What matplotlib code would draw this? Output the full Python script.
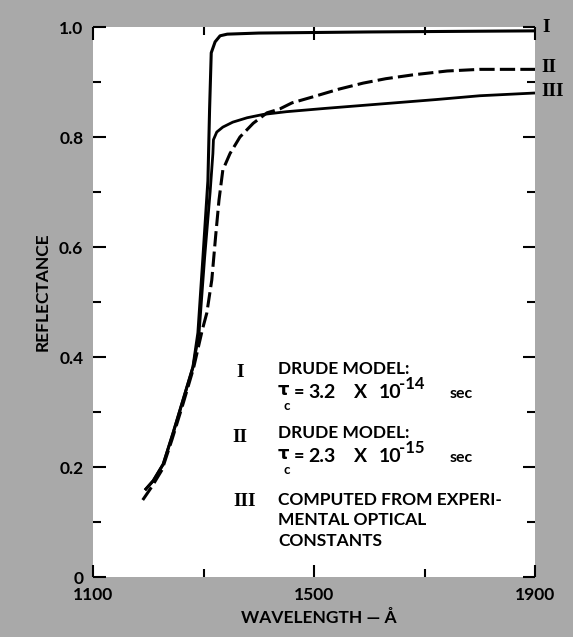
import matplotlib
matplotlib.use("Agg")
import matplotlib.pyplot as plt

W, H = 573, 637

# curve I: Drude model, tau = 3.2e-14 s
wl_I = [1194, 1209, 1227, 1245, 1263, 1281, 1290, 1299, 1308, 1311, 1314, 1321,
        1330, 1343, 1400, 1600, 1900]
R_I = [0.158, 0.175, 0.205, 0.262, 0.322, 0.382, 0.444, 0.58, 0.72, 0.85, 0.953,
       0.973, 0.984, 0.987, 0.989, 0.991, 0.993]

# curve II: Drude model, tau = 2.3e-15 s (dashed)
wl_II = [1190, 1207, 1225, 1243, 1263, 1282, 1298, 1306, 1315, 1322, 1328, 1335,
         1348, 1366, 1390, 1415, 1438, 1460, 1498, 1545, 1589, 1630, 1679, 1741,
         1800, 1900]
R_II = [0.14, 0.165, 0.195, 0.25, 0.315, 0.38, 0.45, 0.48, 0.54, 0.62, 0.685, 0.74,
        0.77, 0.80, 0.825, 0.844, 0.851, 0.862, 0.873, 0.887, 0.898, 0.906, 0.913,
        0.92, 0.923, 0.923]

# curve III: computed from experimental optical constants
wl_III = [1194, 1209, 1227, 1245, 1263, 1281, 1292, 1302, 1312, 1317, 1318, 1324,
          1335, 1353, 1379, 1408, 1450, 1520, 1620, 1720, 1800, 1900]
R_III = [0.158, 0.175, 0.205, 0.262, 0.322, 0.382, 0.444, 0.58, 0.70, 0.77, 0.795,
         0.809, 0.818, 0.827, 0.835, 0.841, 0.846, 0.852, 0.86, 0.868, 0.875, 0.88]

x_major = [1100, 1500, 1900]
x_minor = [1300, 1700]
y_major = [0, 0.2, 0.4, 0.6, 0.8, 1.0]
y_major_labels = ["0", "0.2", "0.4", "0.6", "0.8", "1.0"]
y_minor = [0.1, 0.3, 0.5, 0.7, 0.9]

SANS = "Lato"
SERIF = "Liberation Serif"
WT = "bold"

fig = plt.figure(figsize=(W / 100, H / 100), dpi=100)
fig.patch.set_facecolor("#a9a9a9")
ax = fig.add_axes([93 / W, 1 - 577 / H, 442 / W, 550 / H])
ax.set_facecolor("white")
for s in ax.spines.values():
    s.set_visible(False)

ax.plot(wl_I, R_I, color="black", lw=2.2, solid_capstyle="butt")
ax.plot(wl_III, R_III, color="black", lw=2.0, solid_capstyle="butt")
ax.plot(wl_II, R_II, color="black", lw=2.2, dashes=(5, 1.7))

ax.set_xlim(1100, 1900)
ax.set_ylim(0, 1.0)
ax.set_xticks(x_major)
ax.set_xticks(x_minor, minor=True)
ax.set_yticks(y_major)
ax.set_yticklabels(y_major_labels)
ax.set_yticks(y_minor, minor=True)
ax.tick_params(which="both", direction="in", top=True, right=True, width=1.5,
               color="black", labelsize=12.5)
ax.tick_params(which="major", length=9, pad=7)
ax.tick_params(which="minor", length=5.5)
for lab in ax.get_xticklabels() + ax.get_yticklabels():
    lab.set_family(SANS)
    lab.set_weight(WT)

fig.text(43 / W, 1 - 292 / H, "REFLECTANCE", rotation=90, ha="center", va="center",
         fontsize=12.5, family=SANS, weight=WT)
fig.text(319 / W, 1 - 618 / H, "WAVELENGTH \u2014 \u00c5", ha="center", va="center",
         fontsize=12.5, family=SANS, weight=WT)


def ptxt(x, y, s, **kw):
    kw.setdefault("family", SANS)
    kw.setdefault("va", "center")
    kw.setdefault("weight", WT)
    fig.text(x / W, 1 - y / H, s, **kw)


# curve labels at right edge
ptxt(546, 27, "I", fontsize=14, family=SERIF, ha="center")
ptxt(549, 67, "II", fontsize=14, family=SERIF, ha="center")
ptxt(553, 92, "III", fontsize=14, family=SERIF, ha="center")

# legend block
ptxt(240, 372, "I", fontsize=14, family=SERIF, ha="center")
ptxt(240, 437, "II", fontsize=14, family=SERIF, ha="center")
ptxt(245, 501, "III", fontsize=14, family=SERIF, ha="center")

ptxt(278, 369, "DRUDE MODEL:", fontsize=12.5)
ptxt(278, 433, "DRUDE MODEL:", fontsize=12.5)
for base, exp, coef in [(398, "-14", "3.2"), (462, "-15", "2.3")]:
    ptxt(278, base - 3, "\u03c4", fontsize=13, va="baseline", family="DejaVu Sans")
    ptxt(284, base + 12, "c", fontsize=9.5, va="baseline")
    ptxt(294, base, "=", fontsize=13, va="baseline")
    ptxt(308, base, coef, fontsize=14, va="baseline")
    ptxt(354, base, "X", fontsize=14, va="baseline")
    ptxt(379, base, "10", fontsize=14, va="baseline")
    ptxt(399, base - 9, exp, fontsize=12, va="baseline")
    ptxt(450, base, "sec", fontsize=11.5, va="baseline")

ptxt(278, 500, "COMPUTED FROM EXPERI-", fontsize=12.5)
ptxt(278, 520, "MENTAL OPTICAL", fontsize=12.5)
ptxt(278, 541, "CONSTANTS", fontsize=12.5)

fig.savefig("out.png", dpi=100, facecolor=fig.get_facecolor())
